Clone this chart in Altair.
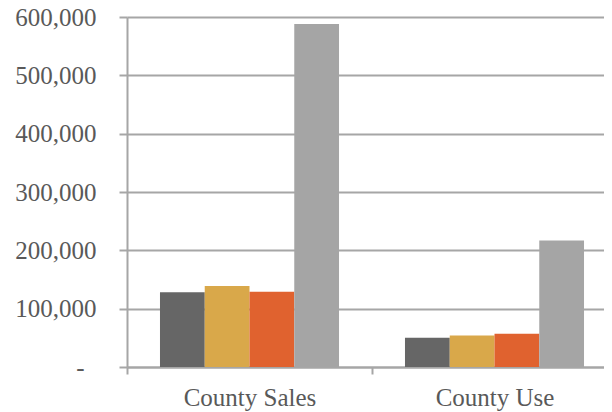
import altair as alt
import pandas as pd

categories = ["County Sales", "County Use"]
series = ["Series 1", "Series 2", "Series 3", "Series 4"]
colors = ["#666666", "#D9A84A", "#E0622F", "#A5A5A5"]
sales_values = [128000, 139000, 129000, 588000]
use_values = [50000, 54000, 57000, 217000]
y_ticks = [0, 100000, 200000, 300000, 400000, 500000, 600000]

rows = []
for cat, vals in zip(categories, [sales_values, use_values]):
    for s, v in zip(series, vals):
        rows.append({"category": cat, "series": s, "value": v})
df = pd.DataFrame(rows)

font = "Liberation Serif"
text_color = "#595959"
grid_color = "#A6A6A6"
y_scale = alt.Scale(domain=[0, 600000], nice=False)

bars = alt.Chart(df).mark_bar().encode(
    x=alt.X(
        "category:N", sort=categories, title=None,
        scale=alt.Scale(paddingInner=0, paddingOuter=0, range=[0, 490]),
        axis=alt.Axis(
            labelAngle=0, tickBand="extent", ticks=True, tickSize=7,
            tickColor=grid_color, tickWidth=2, domainColor=grid_color,
            domainWidth=2, labelPadding=11, labelFont=font, labelFontSize=25,
            labelColor=text_color, grid=False,
        ),
    ),
    xOffset=alt.XOffset(
        "series:N", sort=series,
        scale=alt.Scale(paddingInner=0, paddingOuter=0.737),
    ),
    y=alt.Y(
        "value:Q", title=None, scale=y_scale,
        axis=alt.Axis(
            values=y_ticks,
            labelExpr="datum.value == 0 ? '' : format(datum.value, ',')",
            grid=True, gridColor=grid_color, gridWidth=2,
            domainColor=grid_color, domainWidth=2,
            tickColor=grid_color, tickWidth=2, tickSize=8,
            labelPadding=23, labelFont=font, labelFontSize=25,
            labelColor=text_color,
        ),
    ),
    color=alt.Color(
        "series:N", sort=series,
        scale=alt.Scale(domain=series, range=colors), legend=None,
    ),
)

zero_label = alt.Chart(df).mark_point(opacity=0).encode(
    y=alt.Y(
        "value:Q", title=None, scale=y_scale,
        axis=alt.Axis(
            orient="left", values=[0], labelExpr="'-'",
            domain=False, ticks=False, grid=False,
            labelPadding=43, labelFont=font, labelFontSize=25,
            labelColor=text_color,
        ),
    ),
)

chart = alt.layer(bars, zero_label).resolve_scale(y="shared").resolve_axis(
    y="independent"
).properties(
    width=477, height=350,
    padding={"left": 119, "top": 9, "right": 0, "bottom": 50},
    autosize="none",
).configure_view(stroke=None)

chart.save("out.html", embed_options={"renderer": "svg", "actions": False})
